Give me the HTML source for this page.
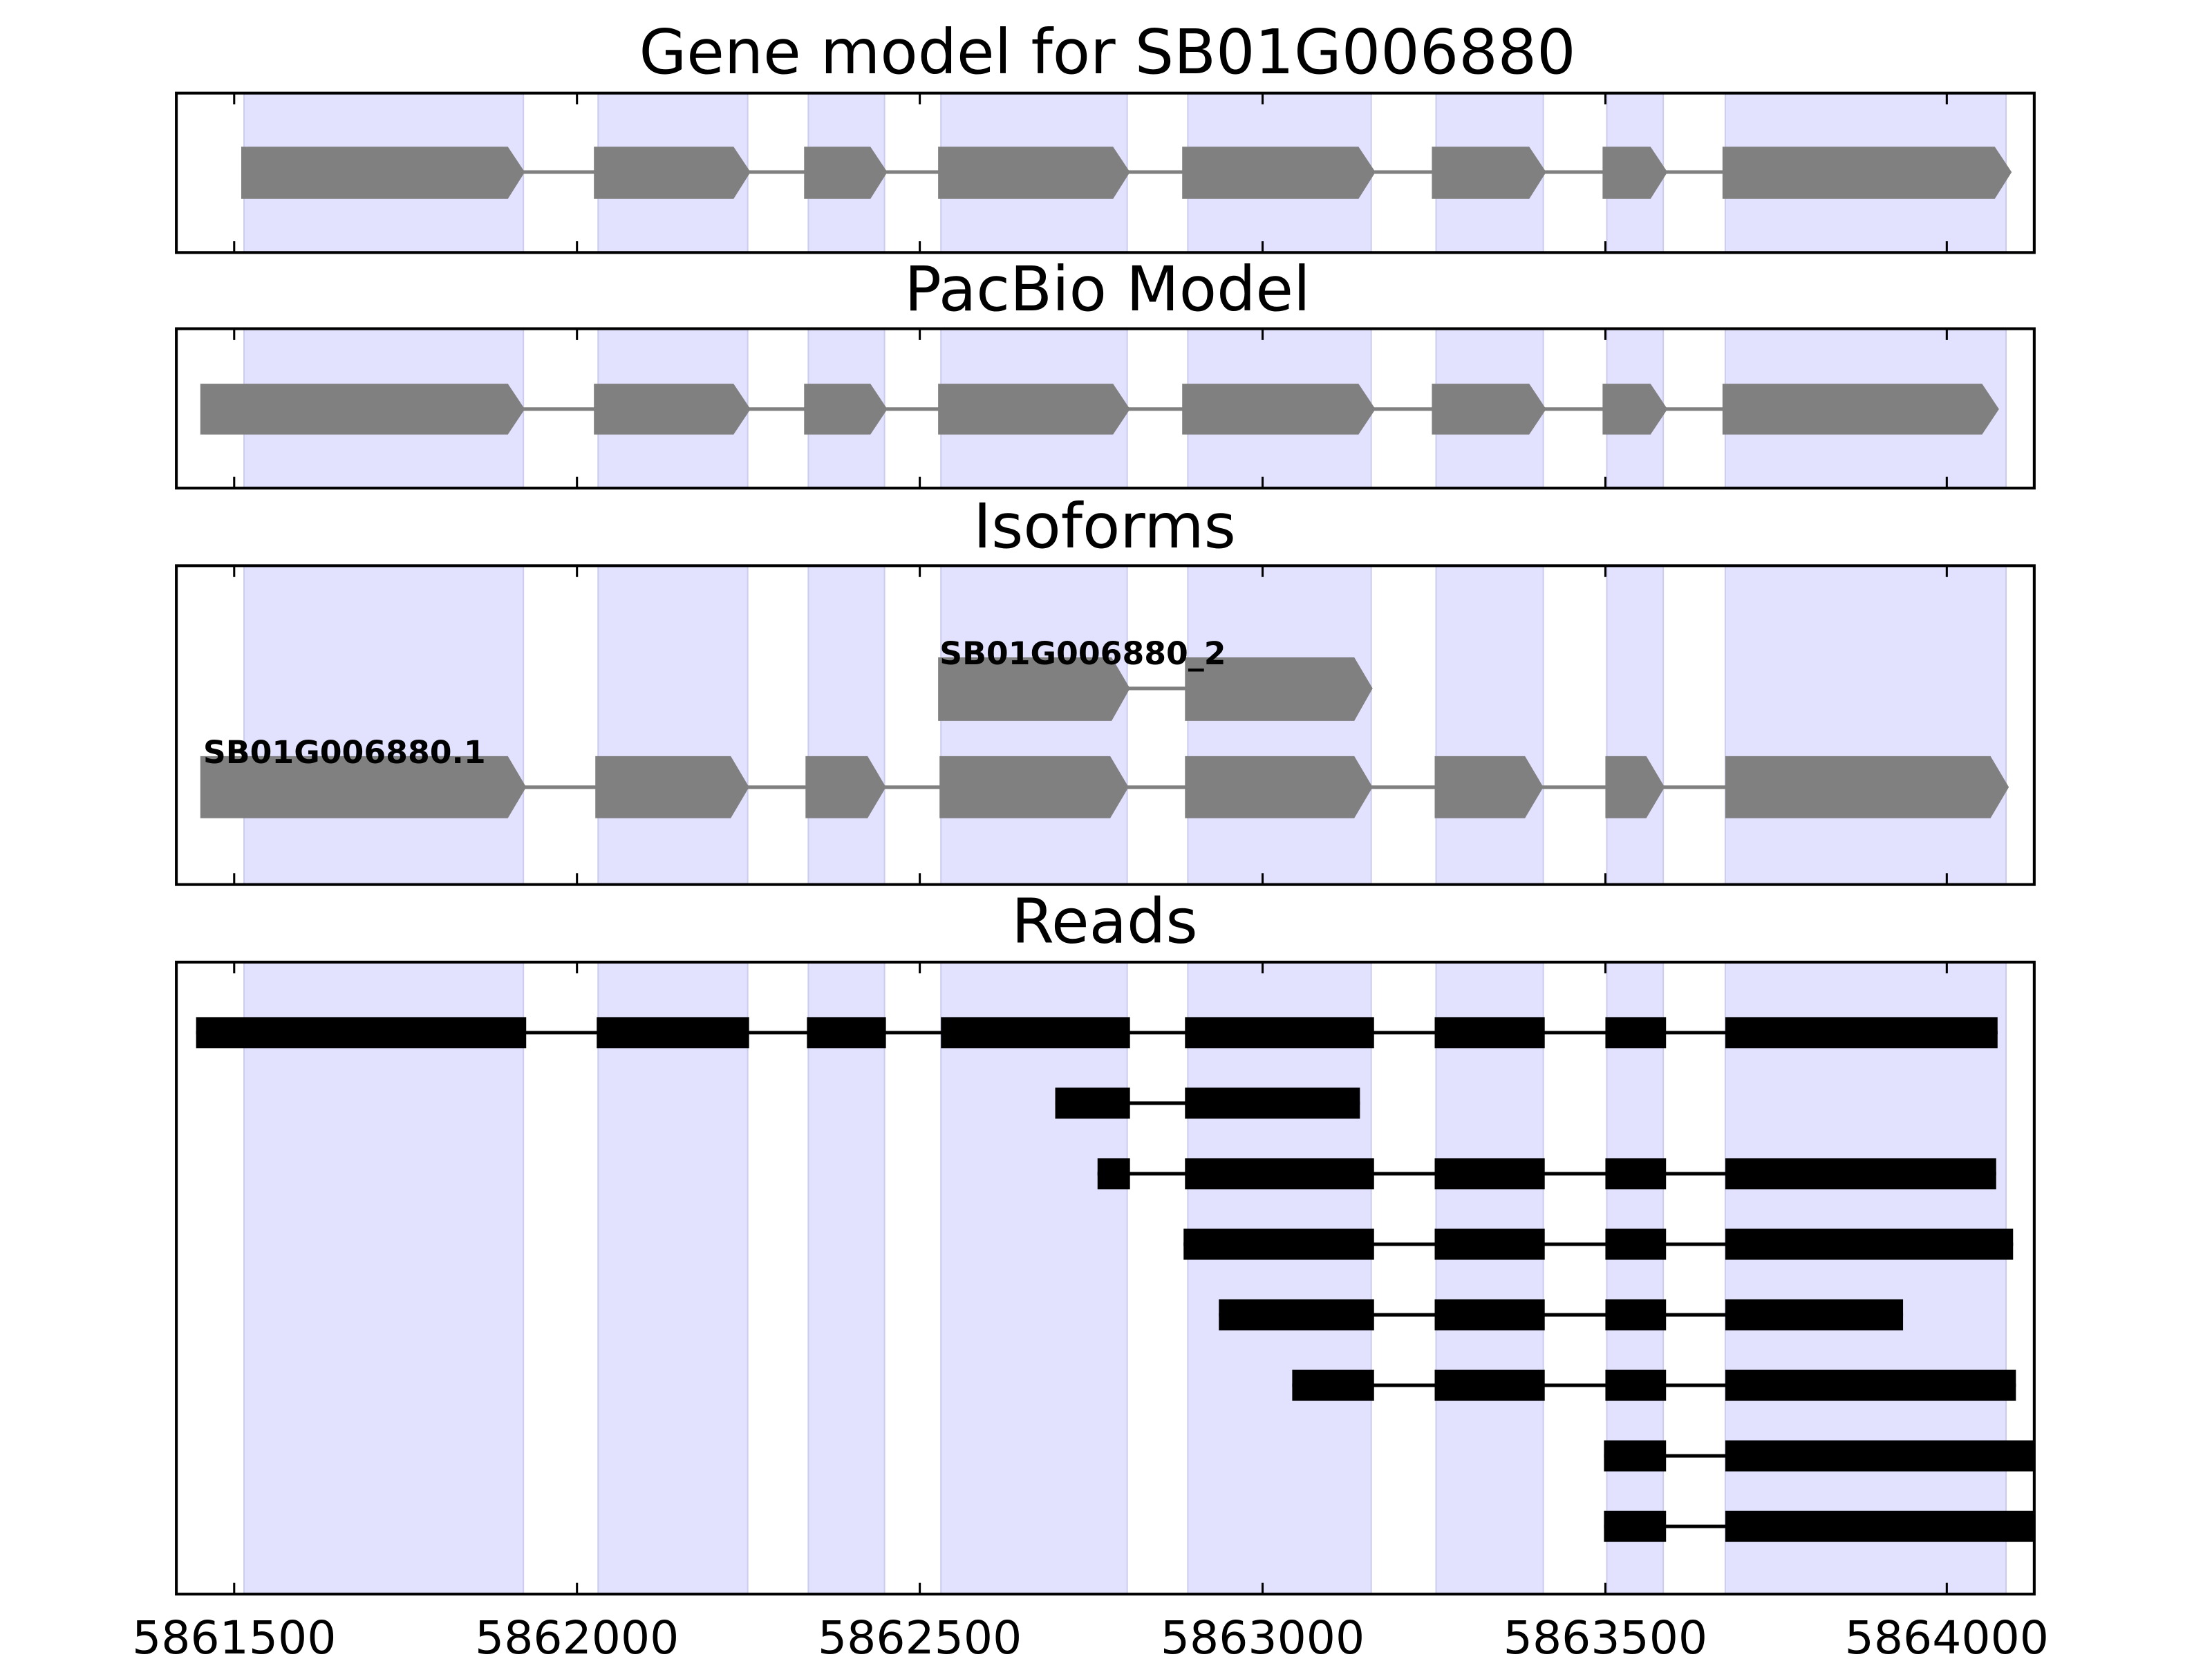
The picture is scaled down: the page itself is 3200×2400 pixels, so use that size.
<!DOCTYPE html>
<html><head><meta charset="utf-8"><style>html,body{margin:0;padding:0;background:#fff}svg{display:block}</style></head>
<body>
<svg width="3200" height="2400" viewBox="0 0 1568 1176" preserveAspectRatio="none" xmlns="http://www.w3.org/2000/svg" font-family="'DejaVu Sans','Liberation Sans',sans-serif">
<defs>
<g id="bands">
<g fill="#e2e2ff" stroke="#ccccee" stroke-width="1">
<rect x="173" y="0" width="198" height="1200"/>
<rect x="424" y="0" width="106" height="1200"/>
<rect x="573" y="0" width="54" height="1200"/>
<rect x="667" y="0" width="132" height="1200"/>
<rect x="842" y="0" width="130" height="1200"/>
<rect x="1018" y="0" width="76" height="1200"/>
<rect x="1139" y="0" width="40" height="1200"/>
<rect x="1223" y="0" width="199" height="1200"/>
</g></g>
<clipPath id="c1"><rect x="125" y="66" width="1317" height="113"/></clipPath>
<clipPath id="c2"><rect x="125" y="233" width="1317" height="113"/></clipPath>
<clipPath id="c3"><rect x="125" y="401" width="1317" height="226"/></clipPath>
<clipPath id="c4"><rect x="125" y="682" width="1317" height="448"/></clipPath>
</defs>
<g font-size="43.5" text-anchor="middle" fill="#000">
<text x="785" y="52">Gene model for SB01G006880</text>
<text x="785" y="220">PacBio Model</text>
<text x="783" y="388">Isoforms</text>
<text x="783" y="668">Reads</text>
</g>
<g clip-path="url(#c1)"><use href="#bands"/></g>
<g clip-path="url(#c2)"><use href="#bands"/></g>
<g clip-path="url(#c3)"><use href="#bands"/></g>
<g clip-path="url(#c4)"><use href="#bands"/></g>
<g stroke="#808080" stroke-width="2.5"><line x1="360" y1="122" x2="1420" y2="122"/><line x1="360" y1="290" x2="1410" y2="290"/><line x1="360" y1="558" x2="1420" y2="558"/><line x1="790" y1="488" x2="850" y2="488"/></g>
<g fill="#808080">
<polygon points="171,104 360,104 372,122 360,141 171,141"/>
<polygon points="421,104 520,104 532,122 520,141 421,141"/>
<polygon points="570,104 617,104 629,122 617,141 570,141"/>
<polygon points="665,104 789,104 801,122 789,141 665,141"/>
<polygon points="838,104 963,104 975,122 963,141 838,141"/>
<polygon points="1015,104 1084,104 1096,122 1084,141 1015,141"/>
<polygon points="1136,104 1170,104 1182,122 1170,141 1136,141"/>
<polygon points="1221,104 1414,104 1426,122 1414,141 1221,141"/>
<polygon points="142,272 360,272 372,290 360,308 142,308"/>
<polygon points="421,272 520,272 532,290 520,308 421,308"/>
<polygon points="570,272 617,272 629,290 617,308 570,308"/>
<polygon points="665,272 789,272 801,290 789,308 665,308"/>
<polygon points="838,272 963,272 975,290 963,308 838,308"/>
<polygon points="1015,272 1084,272 1096,290 1084,308 1015,308"/>
<polygon points="1136,272 1170,272 1182,290 1170,308 1136,308"/>
<polygon points="1221,272 1405,272 1417,290 1405,308 1221,308"/>
<polygon points="142,536 360,536 373,558 360,580 142,580"/>
<polygon points="422,536 518,536 531,558 518,580 422,580"/>
<polygon points="571,536 615,536 628,558 615,580 571,580"/>
<polygon points="666,536 787,536 800,558 787,580 666,580"/>
<polygon points="840,536 960,536 973,558 960,580 840,580"/>
<polygon points="1017,536 1081,536 1094,558 1081,580 1017,580"/>
<polygon points="1138,536 1167,536 1180,558 1167,580 1138,580"/>
<polygon points="1223,536 1411,536 1424,558 1411,580 1223,580"/>
<polygon points="665,466 788,466 801,488 788,511 665,511"/>
<polygon points="840,466 960,466 973,488 960,511 840,511"/>
</g>
<g font-size="22.4" font-weight="bold" fill="#000">
<text x="666" y="471">SB01G006880_2</text>
<text x="144" y="541">SB01G006880.1</text>
</g>
<g clip-path="url(#c4)">
<g stroke="#000" stroke-width="2.5">
<line x1="139" y1="732" x2="1416" y2="732"/>
<line x1="748" y1="782" x2="964" y2="782"/>
<line x1="778" y1="832" x2="1415" y2="832"/>
<line x1="839" y1="882" x2="1427" y2="882"/>
<line x1="864" y1="932" x2="1349" y2="932"/>
<line x1="916" y1="982" x2="1429" y2="982"/>
<line x1="1137" y1="1032" x2="1442" y2="1032"/>
<line x1="1137" y1="1082" x2="1442" y2="1082"/>
</g>
<g fill="#000">
<rect x="139" y="721" width="234" height="22"/><rect x="423" y="721" width="108" height="22"/><rect x="572" y="721" width="56" height="22"/><rect x="667" y="721" width="134" height="22"/><rect x="840" y="721" width="134" height="22"/><rect x="1017" y="721" width="78" height="22"/><rect x="1138" y="721" width="43" height="22"/><rect x="1223" y="721" width="193" height="22"/>
<rect x="748" y="771" width="53" height="22"/><rect x="840" y="771" width="124" height="22"/>
<rect x="778" y="821" width="23" height="22"/><rect x="840" y="821" width="134" height="22"/><rect x="1017" y="821" width="78" height="22"/><rect x="1138" y="821" width="43" height="22"/><rect x="1223" y="821" width="192" height="22"/>
<rect x="839" y="871" width="135" height="22"/><rect x="1017" y="871" width="78" height="22"/><rect x="1138" y="871" width="43" height="22"/><rect x="1223" y="871" width="204" height="22"/>
<rect x="864" y="921" width="110" height="22"/><rect x="1017" y="921" width="78" height="22"/><rect x="1138" y="921" width="43" height="22"/><rect x="1223" y="921" width="126" height="22"/>
<rect x="916" y="971" width="58" height="22"/><rect x="1017" y="971" width="78" height="22"/><rect x="1138" y="971" width="43" height="22"/><rect x="1223" y="971" width="206" height="22"/>
<rect x="1137" y="1021" width="44" height="22"/><rect x="1223" y="1021" width="230" height="22"/>
<rect x="1137" y="1071" width="44" height="22"/><rect x="1223" y="1071" width="230" height="22"/>
</g></g>
<g fill="none" stroke="#000" stroke-width="2">
<rect x="125" y="66" width="1317" height="113"/>
<rect x="125" y="233" width="1317" height="113"/>
<rect x="125" y="401" width="1317" height="226"/>
<rect x="125" y="682" width="1317" height="448"/>
</g>
<g stroke="#000" stroke-width="1.5">
<path d="M166 179v-8M409 179v-8M652 179v-8M895 179v-8M1138 179v-8M1380 179v-8M166 66v8M409 66v8M652 66v8M895 66v8M1138 66v8M1380 66v8"/>
<path d="M166 346v-8M409 346v-8M652 346v-8M895 346v-8M1138 346v-8M1380 346v-8M166 233v8M409 233v8M652 233v8M895 233v8M1138 233v8M1380 233v8"/>
<path d="M166 627v-8M409 627v-8M652 627v-8M895 627v-8M1138 627v-8M1380 627v-8M166 401v8M409 401v8M652 401v8M895 401v8M1138 401v8M1380 401v8"/>
<path d="M166 1130v-8M409 1130v-8M652 1130v-8M895 1130v-8M1138 1130v-8M1380 1130v-8M166 682v8M409 682v8M652 682v8M895 682v8M1138 682v8M1380 682v8"/>
</g>
<g font-size="32.5" text-anchor="middle" fill="#000">
<text x="166" y="1172">5861500</text>
<text x="409" y="1172">5862000</text>
<text x="652" y="1172">5862500</text>
<text x="895" y="1172">5863000</text>
<text x="1138" y="1172">5863500</text>
<text x="1380" y="1172">5864000</text>
</g>
</svg>
</body></html>
